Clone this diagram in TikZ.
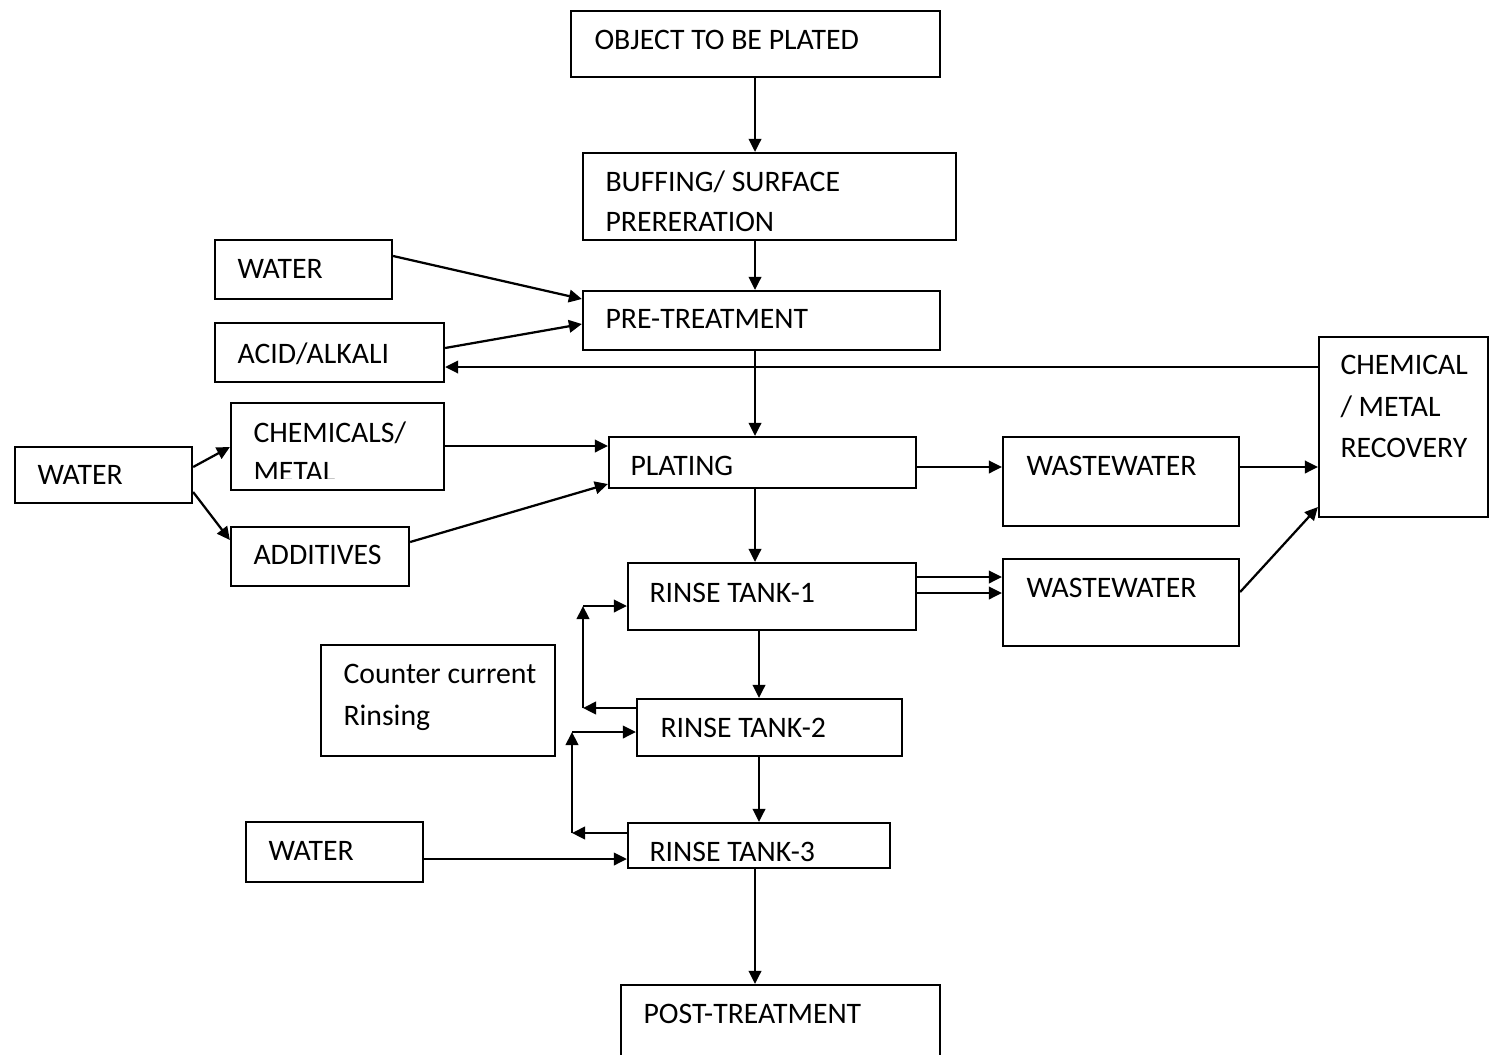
\documentclass[tikz,border=0pt]{standalone}
\usepackage{fontspec}
\setmainfont{Carlito}
\usetikzlibrary{arrows.meta,fit}
\begin{document}
\begin{tikzpicture}[x=0.4pt,y=-0.4pt,
 box/.style={draw,line width=0.9pt,inner sep=0pt,rectangle},
 txt/.style={anchor=base west,inner sep=0pt,font=\fontsize{11.9}{13}\selectfont},
 arr/.style={line width=0.9pt,-{Triangle[length=5.2pt,width=5pt]}},
 ln/.style={line width=0.9pt}]
\useasboundingbox (0,0) rectangle (1490,1054);
% boxes
\node[box,fit={(571,11)(940,77)}] (obj) {};
\node[txt] (objT) at (594,49) {OBJECT TO BE PLATED};
\node[box,fit={(583,153)(956,240)}] (buff) {};
\node[txt] (buffT1) at (605,191) {BUFFING/ SURFACE};
\node[txt] (buffT2) at (605,231) {PRERERATION};
\node[box,fit={(215,240)(392,299)}] (w1) {};
\node[txt] (w1T) at (237,278) {WATER};
\node[box,fit={(583,291)(940,350)}] (pre) {};
\node[txt] (preT) at (605,328) {PRE-TREATMENT};
\node[box,fit={(215,323)(444,382)}] (acid) {};
\node[txt] (acidT) at (237,363) {ACID/ALKALI};
\node[box,fit={(1319,337)(1488,517)}] (rec) {};
\node[txt] (recT1) at (1340,374) {CHEMICAL};
\node[txt] (recT2) at (1340,416) {/ METAL};
\node[txt] (recT3) at (1340,457) {RECOVERY};
\node[box,fit={(231,403)(444,490)}] (chem) {};
\node[txt] (chemT1) at (253,442) {CHEMICALS/};
\begin{scope}
\clip (231,403) rectangle (444,478);
\node[txt] (chemT2) at (253,481) {METAL};
\end{scope}
\node[box,fit={(15,447)(192,503)}] (w2) {};
\node[txt] (w2T) at (37,484) {WATER};
\node[box,fit={(609,437)(916,488)}] (plat) {};
\node[txt] (platT) at (630,475) {PLATING};
\node[box,fit={(231,527)(409,586)}] (add) {};
\node[txt] (addT) at (253,564) {ADDITIVES};
\node[box,fit={(1003,437)(1239,526)}] (ww1) {};
\node[txt] (ww1T) at (1026,475) {WASTEWATER};
\node[box,fit={(1003,559)(1239,646)}] (ww2) {};
\node[txt] (ww2T) at (1026,597) {WASTEWATER};
\node[box,fit={(628,563)(916,630)}] (rt1) {};
\node[txt] (rt1T) at (649,602) {RINSE TANK-1};
\node[box,fit={(321,645)(555,756)}] (cc) {};
\node[txt] (ccT1) at (343,683) {Counter current};
\node[txt] (ccT2) at (343,725) {Rinsing};
\node[box,fit={(637,699)(902,756)}] (rt2) {};
\node[txt] (rt2T) at (660,737) {RINSE TANK-2};
\node[box,fit={(246,822)(423,882)}] (w3) {};
\node[txt] (w3T) at (268,860) {WATER};
\node[box,fit={(628,823)(890,868)}] (rt3) {};
\node[txt] (rt3T) at (649,861) {RINSE TANK-3};
\node[box,fit={(621,985)(940,1070)}] (post) {};
\node[txt] (postT) at (643,1023) {POST-TREATMENT};
% helper coordinates
\coordinate (cx) at (755,0);
\coordinate (cy) at (759,0);
\coordinate (l1a) at (583,708);
\coordinate (l1b) at (583,606);
\coordinate (l2a) at (572,833);
\coordinate (l2b) at (572,732);
% connectors
\draw[arr] (obj.south -| cx) -- (buff.north -| cx);
\draw[arr] (buff.south -| cx) -- (pre.north -| cx);
\draw[arr] (w1.east |- 0,256) -- (pre.west |- 0,299);
\draw[arr] (acid.east |- 0,348) -- (pre.west |- 0,324);
\draw[arr] (rec.west |- 0,367) -- (acid.east |- 0,367);
\draw[arr] (pre.south -| cx) -- (plat.north -| cx);
\draw[arr] (w2.east |- 0,467) -- (chem.west |- 0,447);
\draw[arr] (w2.east |- 0,492) -- (add.west |- 0,540);
\draw[arr] (chem.east |- 0,446) -- (plat.west |- 0,446);
\draw[arr] (add.east |- 0,542) -- (plat.west |- 0,484);
\draw[arr] (plat.east |- 0,467) -- (ww1.west |- 0,467);
\draw[arr] (ww1.east |- 0,467) -- (rec.west |- 0,467);
\draw[arr] (ww2.east |- 0,592) -- (rec.west |- 0,507);
\draw[arr] (plat.south -| cx) -- (rt1.north -| cx);
\draw[arr] (rt1.east |- 0,577) -- (ww2.west |- 0,577);
\draw[arr] (rt1.east |- 0,593) -- (ww2.west |- 0,593);
\draw[arr] (rt1.south -| cy) -- (rt2.north -| cy);
\draw[arr] (rt2.west |- l1a) -- (l1a);
\draw[arr] (l1a) -- (l1b);
\draw[arr] (l1b) -- (rt1.west |- l1b);
\draw[arr] (rt2.south -| cy) -- (rt3.north -| cy);
\draw[arr] (rt3.west |- l2a) -- (l2a);
\draw[arr] (l2a) -- (l2b);
\draw[arr] (l2b) -- (rt2.west |- l2b);
\draw[arr] (w3.east |- 0,859) -- (rt3.west |- 0,859);
\draw[arr] (rt3.south -| cx) -- (post.north -| cx);
\end{tikzpicture}
\end{document}
